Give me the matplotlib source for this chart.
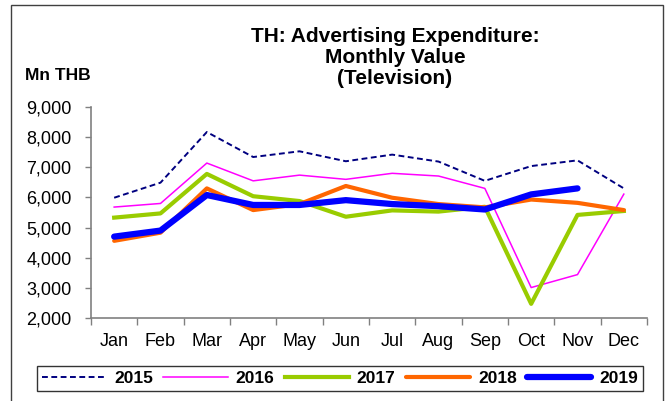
import matplotlib
matplotlib.use("Agg")
import matplotlib.pyplot as plt
from matplotlib.patches import Rectangle
from matplotlib.ticker import FuncFormatter, FixedLocator

months = ["Jan", "Feb", "Mar", "Apr", "May", "Jun", "Jul", "Aug", "Sep", "Oct", "Nov", "Dec"]
y2015 = [5990, 6490, 8170, 7340, 7530, 7200, 7420, 7190, 6550, 7040, 7230, 6300]
y2016 = [5680, 5800, 7140, 6550, 6740, 6600, 6800, 6710, 6300, 3010, 3440, 6110]
y2017 = [5330, 5470, 6780, 6040, 5880, 5360, 5570, 5530, 5690, 2470, 5420, 5550]
y2018 = [4560, 4830, 6300, 5580, 5780, 6380, 5990, 5780, 5670, 5930, 5820, 5580]
y2019 = [4700, 4900, 6080, 5750, 5750, 5910, 5780, 5710, 5600, 6100, 6300]
yticks = [2000, 3000, 4000, 5000, 6000, 7000, 8000, 9000]

plt.rcParams['font.family'] = ['Liberation Sans', 'DejaVu Sans']

fig = plt.figure(figsize=(6.7, 4.01), dpi=100)
ax = fig.add_axes([91/670, 1-318/401, (647-91)/670, (318-107)/401])

x = list(range(12))
ax.plot(x, y2015, color="#000080", lw=1.4, ls=(0, (3, 1.8)), label="2015")
ax.plot(x, y2016, color="#FF00FF", lw=1.1, label="2016")
ax.plot(x, y2017, color="#99CC00", lw=3.0, label="2017")
ax.plot(x, y2018, color="#FF6600", lw=3.0, solid_capstyle="round", label="2018")
ax.plot(list(range(len(y2019))), y2019, color="#0000FF", lw=4.5, solid_capstyle="round", label="2019")

ax.set_xlim(-0.5, 11.5)
ax.set_ylim(2000, 9000)
ax.set_yticks(yticks)
ax.yaxis.set_major_formatter(FuncFormatter(lambda v, p: f"{int(v):,}"))
ax.set_xticks(x)
ax.set_xticklabels(months)
ax.xaxis.set_minor_locator(FixedLocator([i - 0.5 for i in range(13)]))
ax.tick_params(axis="x", which="major", length=0, pad=11, labelsize=13)
ax.tick_params(axis="x", which="minor", length=5, width=1, color="#808080", direction="out")
ax.tick_params(axis="y", length=4, width=1, color="#808080", labelsize=13, pad=10)
for s in ["top", "right"]:
    ax.spines[s].set_visible(False)
for s in ["left", "bottom"]:
    ax.spines[s].set_color("#808080")
    ax.spines[s].set_linewidth(1.2)

fig.text(395/670, 1-57.5/401, "TH: Advertising Expenditure:\nMonthly Value\n(Television)",
         ha="center", va="center", fontsize=15, fontweight="bold", linespacing=1.15)
fig.text(25/670, 1-75/401, "Mn THB", ha="left", va="center", fontsize=12.5, fontweight="bold")

# outer border
fig.add_artist(Rectangle((11/670, -0.05), (663-11)/670, 1-5/401+0.05, transform=fig.transFigure,
                         fill=False, edgecolor="#404040", lw=1.0))

leg = fig.legend(loc="center", bbox_to_anchor=(340/670, 1-378.5/401), ncol=5,
                 handlelength=3.7, handletextpad=0.45, columnspacing=0.6,
                 prop={"weight": "bold", "size": 12.5}, frameon=True, fancybox=False,
                 borderpad=0.3, borderaxespad=0)
leg.get_frame().set_edgecolor("black")
leg.get_frame().set_linewidth(1.0)

fig.savefig("out.png", dpi=100)
